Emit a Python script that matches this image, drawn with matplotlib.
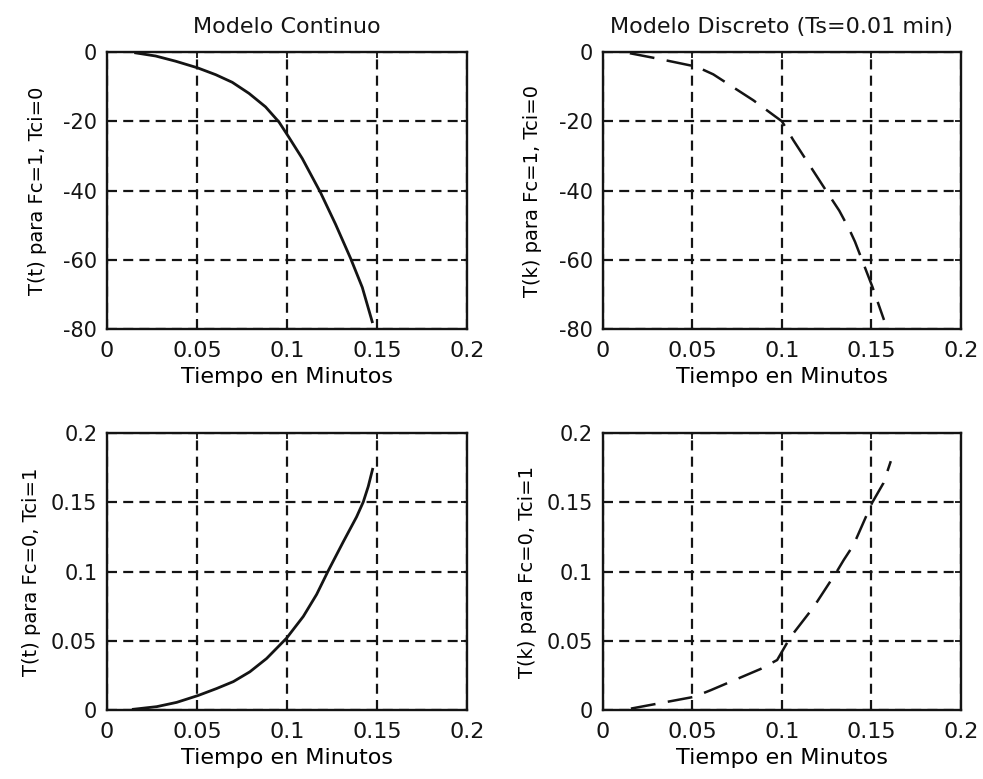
import matplotlib
matplotlib.use('Agg')
import matplotlib.pyplot as plt

# Modelo continuo, Fc=1, Tci=0
t_cont_fc = [0.0159, 0.027, 0.0381, 0.0502, 0.0604, 0.0696, 0.0789, 0.0881,
             0.0956, 0.1011, 0.1085, 0.1187, 0.127, 0.1354, 0.1419, 0.1474]
T_cont_fc = [-0.2, -1.1, -2.6, -4.5, -6.5, -8.7, -11.9, -15.8,
             -20.2, -24.6, -30.7, -40.6, -49.7, -59.6, -68.0, -77.9]

# Modelo discreto, Fc=1, Tci=0
t_disc_fc = [0.015, 0.03, 0.0523, 0.0616, 0.084, 0.1, 0.1063, 0.125, 0.132,
             0.1376, 0.1408, 0.1505, 0.157]
T_disc_fc = [-0.3, -1.8, -4.2, -6.4, -13.9, -20, -25.4, -40.3, -45.8,
             -51.2, -54.8, -67.8, -77.4]

# Modelo continuo, Fc=0, Tci=1
t_cont_tci = [0.0146, 0.0276, 0.0387, 0.0507, 0.0609, 0.0702, 0.0794, 0.0887,
              0.0998, 0.1091, 0.1165, 0.123, 0.1313, 0.1387, 0.1424, 0.1452,
              0.1476]
T_cont_tci = [0.0005, 0.0024, 0.0055, 0.0105, 0.0155, 0.0205, 0.0276, 0.0372,
              0.0519, 0.0676, 0.0835, 0.1007, 0.1215, 0.1395, 0.1502, 0.1615,
              0.1739]

# Modelo discreto, Fc=0, Tci=1
t_disc_tci = [0.0156, 0.0509, 0.0602, 0.088, 0.0973, 0.1047, 0.1177, 0.1308,
              0.1345, 0.14, 0.1503, 0.1567, 0.1608]
T_disc_tci = [0.001, 0.0095, 0.0143, 0.0296, 0.0361, 0.0526, 0.0744, 0.1004,
              0.1084, 0.1193, 0.1496, 0.164, 0.1798]

x_ticks = [0, 0.05, 0.1, 0.15, 0.2]
x_ticklabels = ['0', '0.05', '0.1', '0.15', '0.2']
y_ticks_fc = [0, -20, -40, -60, -80]
y_ticks_tci = [0, 0.05, 0.1, 0.15, 0.2]
y_ticklabels_tci = ['0', '0.05', '0.1', '0.15', '0.2']

ink = '#141414'
plt.rcParams['font.family'] = 'DejaVu Sans'
plt.rcParams['axes.unicode_minus'] = False
plt.rcParams['text.color'] = ink

fig = plt.figure(figsize=(9.83, 7.79), dpi=100)

left_l, left_r = 0.1089, 0.6134
bottom_t, bottom_b = 0.5777, 0.0886
w, h = 0.366, 0.3553

ax_tl = fig.add_axes([left_l, bottom_t, w, h])
ax_tr = fig.add_axes([left_r, bottom_t, 0.3642, h])
ax_bl = fig.add_axes([left_l, bottom_b, w, h])
ax_br = fig.add_axes([left_r, bottom_b, 0.3642, h])


def style(ax, yticks, ylabels, ylim):
    ax.set_xlim(0, 0.2)
    ax.set_ylim(*ylim)
    ax.set_xticks(x_ticks)
    ax.set_xticklabels(x_ticklabels, fontsize=16)
    ax.set_yticks(yticks)
    ax.set_yticklabels(ylabels, fontsize=15)
    ax.tick_params(direction='in', length=4, width=1.3, colors=ink,
                   top=True, right=True)
    ax.tick_params(axis='x', pad=9)
    ax.tick_params(axis='y', pad=7)
    for s in ax.spines.values():
        s.set_linewidth(1.7)
        s.set_color(ink)
    ax.grid(True, color=ink, linewidth=1.6, linestyle=(0, (4.5, 2.8)))
    ax.set_axisbelow(False)
    ax.set_xlabel('Tiempo en Minutos', fontsize=16, labelpad=4)


# top left
ax_tl.plot(t_cont_fc, T_cont_fc, color=ink, linewidth=2.0)
style(ax_tl, y_ticks_fc, [str(v) for v in y_ticks_fc], (-80, 0))
ax_tl.set_title('Modelo Continuo', fontsize=16, pad=14)
ax_tl.set_ylabel('T(t) para Fc=1, Tci=0', fontsize=14, labelpad=12)

# top right
ax_tr.plot(t_disc_fc, T_disc_fc, color=ink, linewidth=1.8,
           linestyle=(0, (10, 5)))
style(ax_tr, y_ticks_fc, [str(v) for v in y_ticks_fc], (-80, 0))
ax_tr.set_title('Modelo Discreto (Ts=0.01 min)', fontsize=16, pad=14)
ax_tr.set_ylabel('T(k) para Fc=1, Tci=0', fontsize=14, labelpad=12)

# bottom left
ax_bl.plot(t_cont_tci, T_cont_tci, color=ink, linewidth=2.0)
style(ax_bl, y_ticks_tci, y_ticklabels_tci, (0, 0.2))
ax_bl.set_ylabel('T(t) para Fc=0, Tci=1', fontsize=14, labelpad=7)

# bottom right
ax_br.plot(t_disc_tci, T_disc_tci, color=ink, linewidth=1.8,
           linestyle=(0, (10, 5)))
style(ax_br, y_ticks_tci, y_ticklabels_tci, (0, 0.2))
ax_br.set_ylabel('T(k) para Fc=0, Tci=1', fontsize=14, labelpad=7)

fig.savefig('out.png', dpi=100, facecolor='white')
